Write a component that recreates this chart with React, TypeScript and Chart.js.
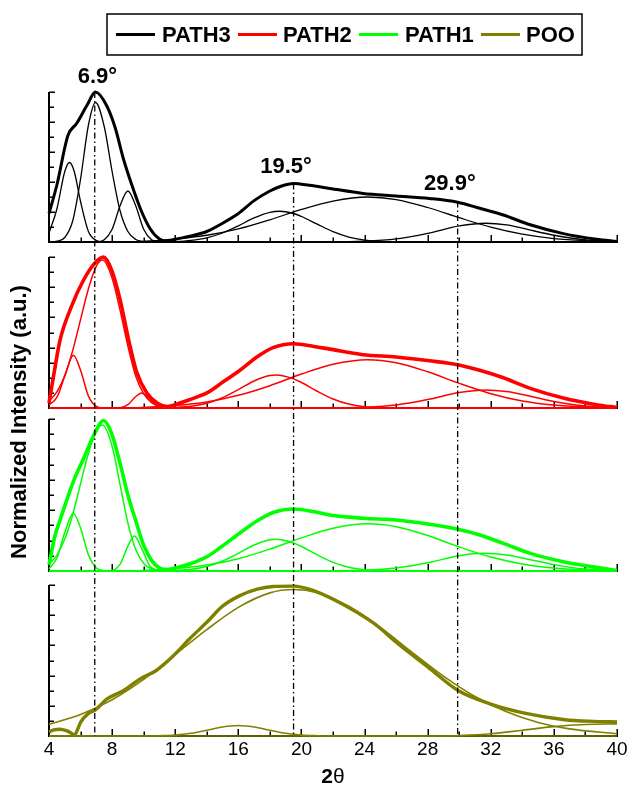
import React, { useEffect, useRef } from 'react';
import { Chart, registerables } from 'chart.js';

Chart.register(...registerables);

type Pt = [number, number];

// ---------- axis / tick data ----------
const X_MIN = 4;
const X_MAX = 40;
const xTickLabels = [4, 8, 12, 16, 20, 24, 28, 32, 36, 40];
const xTickMarks = [4, 6, 8, 10, 12, 14, 16, 18, 20, 22, 24, 26, 28, 30, 32, 34, 36, 38, 40];
const yTickMarks = [0, 0.1, 0.2, 0.3, 0.4, 0.5, 0.6, 0.7, 0.8, 0.9, 1.0];

// reference (dash-dot) lines: [2theta, top value in top panel]
const refLines: Pt[] = [
  [6.9, 1.0],
  [19.5, 0.39],
  [29.9, 0.27],
];
const peakLabelText = ['6.9°', '19.5°', '29.9°'];
const peakLabelPos: Pt[] = [
  [7.07, 1.06],
  [19.02, 0.46],
  [29.41, 0.347],
];

// ---------- PATH3 (black) ----------
const path3Exp: Pt[] = [[4,0.19],[4.5,0.38],[5.2,0.71],[5.75,0.79],[6.4,0.91],[6.95,1.0],[7.65,0.91],[8.2,0.76],[8.7,0.56],[9.25,0.38],[9.8,0.22],[10.4,0.09],[11,0.02],[11.5,0.005],[12,0.018],[13,0.04],[14,0.07],[15,0.125],[16,0.19],[17,0.276],[18,0.34],[18.7,0.372],[19.5,0.39],[20.5,0.378],[21.8,0.357],[23.9,0.324],[26,0.307],[28.1,0.29],[29.9,0.265],[31.3,0.225],[32.8,0.18],[34.5,0.115],[36.6,0.056],[38.7,0.018],[40,0.003]];
const path3A: Pt[] = [[4,0.06],[4.5,0.22],[5,0.47],[5.3,0.53],[5.6,0.47],[6,0.27],[6.5,0.07],[7,0.01],[7.5,0],[40,0]];
const path3B: Pt[] = [[4,0],[4.5,0.005],[5,0.03],[5.5,0.14],[6,0.42],[6.5,0.78],[6.95,0.93],[7.5,0.77],[8,0.47],[8.5,0.21],[9,0.07],[9.5,0.017],[10,0.003],[10.5,0],[40,0]];
const path3C: Pt[] = [[4,0],[7,0],[7.5,0.015],[8,0.085],[8.5,0.24],[9,0.34],[9.5,0.24],[10,0.085],[10.5,0.015],[11,0],[40,0]];
const path3D: Pt[] = [[4,0],[11,0],[12,0.003],[13,0.011],[14,0.028],[15,0.06],[16,0.108],[17,0.161],[18,0.198],[18.6,0.205],[19.5,0.19],[20,0.17],[21,0.119],[22,0.069],[23,0.033],[24,0.013],[25,0.004],[26,0],[40,0]];
const path3E: Pt[] = [[4,0],[9,0],[11,0.011],[12,0.02],[14,0.045],[16,0.087],[18,0.148],[20,0.217],[22,0.273],[24.2,0.3],[26,0.283],[28,0.23],[30,0.162],[32,0.099],[34,0.052],[36,0.023],[38,0.009],[40,0.003]];
const path3F: Pt[] = [[4,0],[22,0],[24,0.005],[26,0.021],[28,0.058],[30,0.107],[31.7,0.125],[33,0.114],[34,0.092],[36,0.045],[38,0.014],[40,0.003]];

// ---------- PATH2 (red) ----------
const path2Exp: Pt[] = [[4,0.033],[4.35,0.25],[4.7,0.45],[5.45,0.68],[6.15,0.84],[6.9,0.96],[7.45,1.0],[7.95,0.92],[8.5,0.72],[9.05,0.45],[9.55,0.24],[10.2,0.1],[10.9,0.03],[11.5,0.01],[12.2,0.03],[12.9,0.055],[14,0.1],[15,0.17],[16.1,0.25],[17.2,0.34],[18.2,0.4],[19.5,0.426],[20.8,0.408],[21.8,0.39],[23.9,0.353],[26,0.338],[28.1,0.313],[29.9,0.287],[31.3,0.25],[32.8,0.2],[34.5,0.13],[36.6,0.066],[38.7,0.022],[40,0.003]];
const path2A: Pt[] = [[4,0.02],[4.5,0.07],[5,0.21],[5.55,0.35],[6,0.25],[6.5,0.079],[7,0.011],[7.5,0],[40,0]];
const path2B: Pt[] = [[4,0.047],[4.5,0.107],[5,0.216],[5.5,0.38],[6,0.586],[6.5,0.79],[7,0.94],[7.4,0.98],[8,0.86],[8.5,0.65],[9,0.41],[9.5,0.21],[10,0.095],[10.5,0.036],[11,0.011],[11.5,0.003],[12,0],[40,0]];
const path2C: Pt[] = [[4,0],[8.5,0.002],[9,0.022],[9.5,0.076],[9.87,0.1],[10.3,0.069],[10.8,0.018],[11.3,0.002],[11.8,0],[40,0]];
const path2D: Pt[] = [[4,0],[11,0],[12,0.004],[13,0.012],[14,0.031],[15,0.069],[16,0.122],[17,0.179],[18,0.215],[18.4,0.218],[19.5,0.193],[20,0.169],[21,0.111],[22,0.06],[23,0.026],[24,0.009],[25,0.003],[26,0],[40,0]];
const path2E: Pt[] = [[4,0],[9,0],[11,0.01],[12,0.016],[14,0.04],[16,0.084],[18,0.148],[20,0.225],[22,0.29],[24.2,0.32],[26,0.3],[28,0.24],[30,0.163],[32,0.095],[34,0.047],[36,0.02],[38,0.007],[40,0.002]];
const path2F: Pt[] = [[4,0],[22,0],[24,0.005],[26,0.02],[28,0.056],[30,0.103],[31.7,0.12],[33,0.109],[34,0.089],[36,0.043],[38,0.013],[40,0.003]];

// ---------- PATH1 (green) ----------
const path1Exp: Pt[] = [[4,0.04],[4.35,0.22],[4.7,0.335],[5.55,0.59],[6.15,0.73],[6.9,0.906],[7.45,0.99],[7.95,0.91],[8.5,0.71],[9,0.5],[9.5,0.33],[10,0.17],[10.5,0.07],[11,0.02],[11.5,0.01],[12.2,0.025],[12.9,0.046],[14,0.094],[15,0.165],[16.1,0.25],[17.2,0.33],[18.2,0.385],[19.5,0.408],[20.8,0.39],[21.8,0.368],[23.9,0.347],[26,0.335],[28.1,0.307],[29.9,0.274],[31.3,0.237],[32.8,0.182],[34.5,0.116],[36.6,0.061],[38.7,0.024],[40,0.003]];
const path1A: Pt[] = [[4,0.014],[4.5,0.085],[5,0.253],[5.54,0.38],[6,0.283],[6.5,0.106],[7,0.02],[7.5,0.002],[8,0],[40,0]];
const path1B: Pt[] = [[4,0.045],[4.5,0.105],[5,0.21],[5.5,0.37],[6,0.575],[6.5,0.775],[7,0.92],[7.4,0.96],[8,0.82],[8.5,0.57],[9,0.315],[9.5,0.14],[10,0.05],[10.5,0.015],[11,0.004],[11.5,0],[40,0]];
const path1C: Pt[] = [[4,0],[7.5,0],[8,0.004],[8.5,0.044],[9,0.164],[9.41,0.23],[9.9,0.142],[10.4,0.032],[10.9,0.003],[11.4,0],[40,0]];
const path1D: Pt[] = [[4,0],[11,0],[12,0.004],[13,0.011],[14,0.03],[15,0.066],[16,0.116],[17,0.171],[18,0.205],[18.4,0.208],[19.5,0.184],[20,0.161],[21,0.106],[22,0.057],[23,0.025],[24,0.009],[25,0.003],[26,0],[40,0]];
const path1E: Pt[] = [[4,0],[9,0],[11,0.01],[12,0.016],[14,0.039],[16,0.081],[18,0.144],[20,0.218],[22,0.281],[24.2,0.31],[26,0.291],[28,0.233],[30,0.158],[32,0.092],[34,0.046],[36,0.019],[38,0.007],[40,0.002]];
const path1F: Pt[] = [[4,0],[22,0],[24,0.005],[26,0.02],[28,0.054],[30,0.1],[31.6,0.116],[33,0.105],[34,0.086],[36,0.042],[38,0.013],[40,0.003]];

// ---------- POO (olive) ----------
const pooExp: Pt[] = [[4,0.027],[4.3,0.04],[4.7,0.045],[5.1,0.035],[5.4,0.02],[5.6,0.005],[5.8,0.04],[6.0,0.09],[6.5,0.15],[6.9,0.17],[7.7,0.247],[8.7,0.3],[9.8,0.38],[10.8,0.434],[11.9,0.533],[12.9,0.643],[14,0.753],[15,0.86],[16.1,0.93],[17.2,0.973],[18.2,0.99],[19.5,0.993],[20.8,0.962],[22.2,0.896],[24.6,0.746],[26.1,0.613],[28,0.458],[29.9,0.303],[31.9,0.215],[34.3,0.148],[36.7,0.108],[38.5,0.097],[40,0.093]];
const pooG: Pt[] = [[4,0.077],[6,0.142],[8,0.24],[10,0.375],[12,0.54],[14,0.705],[16,0.852],[18,0.948],[19.5,0.97],[21,0.949],[23,0.859],[25,0.719],[27,0.556],[29,0.397],[31,0.262],[33,0.16],[35,0.09],[37,0.047],[40,0.015]];
const pooH: Pt[] = [[4,0],[10,0],[11,0.002],[12,0.006],[13,0.018],[14,0.038],[15,0.06],[16,0.07],[17,0.06],[18,0.038],[19,0.018],[20,0.006],[21,0.002],[22,0],[40,0]];
const pooI: Pt[] = [[4,0],[29,0],[30,0.003],[32,0.015],[34,0.038],[36,0.062],[38,0.076],[40,0.08]];

// ---------- panels ----------
const panelLabels = ['PATH3', 'PATH2', 'PATH1', 'POO'];
const panelColors = ['#000000', '#ff0000', '#00ff00', '#808000'];
const panelAxes = ['y1', 'y2', 'y3', 'y4'];
const panelMax = [1.0, 1.1, 1.072, 1.093];
const panelStackWeight = [150, 166, 163, 165];
const panelExp = [path3Exp, path2Exp, path1Exp, pooExp];
const panelComps = [
  [path3A, path3B, path3C, path3D, path3E, path3F],
  [path2A, path2B, path2C, path2D, path2E, path2F],
  [path1A, path1B, path1C, path1D, path1E, path1F],
  [pooG, pooH, pooI],
];
const expWidths = [3, 3.6, 3.6, 3.4];
const compWidths = [1.3, 1.5, 1.5, 1.6];

const FONT = '"Liberation Sans", Arial, Helvetica, sans-serif';

const toXY = (a: Pt[]) => a.map(([x, y]) => ({ x, y }));

const decorPlugin = {
  id: 'decor',
  beforeDatasetsDraw(chart: any) {
    const ctx = chart.ctx as CanvasRenderingContext2D;
    const xs = chart.scales.x;
    const xl = xs.getPixelForValue(X_MIN);
    const xr = xs.getPixelForValue(X_MAX);
    ctx.save();
    ctx.strokeStyle = '#000';
    panelAxes.forEach((id) => {
      const s = chart.scales[id];
      const y0 = s.getPixelForValue(0);
      const y1 = s.getPixelForValue(1);
      ctx.lineWidth = 2;
      ctx.beginPath();
      ctx.moveTo(xl, y0);
      ctx.lineTo(xl, y1);
      ctx.moveTo(xl - 1, y0);
      ctx.lineTo(xr + 1, y0);
      ctx.stroke();
      ctx.lineWidth = 1.5;
      ctx.beginPath();
      yTickMarks.forEach((v, i) => {
        const py = Math.round(s.getPixelForValue(v)) + 0.25;
        const len = i % 2 === 0 ? 6 : 5;
        ctx.moveTo(xl, py);
        ctx.lineTo(xl + len, py);
      });
      xTickMarks.forEach((v) => {
        const px = Math.round(xs.getPixelForValue(v)) + 0.25;
        const len = v % 4 === 0 ? 7 : 4.5;
        ctx.moveTo(px, y0);
        ctx.lineTo(px, y0 - len);
      });
      ctx.stroke();
    });
    ctx.restore();
  },
  afterDatasetsDraw(chart: any) {
    const ctx = chart.ctx as CanvasRenderingContext2D;
    const xs = chart.scales.x;
    const top = chart.scales.y1;
    const bottom = chart.scales.y4;
    ctx.save();
    // dash-dot reference lines
    ctx.strokeStyle = '#000';
    ctx.lineWidth = 1.3;
    ctx.setLineDash([6, 3, 1.5, 3]);
    refLines.forEach(([xv, tv]) => {
      const px = xs.getPixelForValue(xv);
      ctx.beginPath();
      ctx.moveTo(px, top.getPixelForValue(tv));
      ctx.lineTo(px, bottom.getPixelForValue(0));
      ctx.stroke();
    });
    ctx.setLineDash([]);

    // peak labels
    ctx.fillStyle = '#000';
    ctx.font = `bold 22px ${FONT}`;
    ctx.textAlign = 'center';
    ctx.textBaseline = 'alphabetic';
    peakLabelText.forEach((t, i) => {
      const [xv, yv] = peakLabelPos[i];
      ctx.fillText(t, xs.getPixelForValue(xv), top.getPixelForValue(yv));
    });

    // x tick labels
    ctx.font = `19px ${FONT}`;
    ctx.textBaseline = 'middle';
    xTickLabels.forEach((v) => {
      ctx.fillText(String(v), xs.getPixelForValue(v), 750);
    });

    // x title: bold 2 + theta
    const cx = (xs.getPixelForValue(X_MIN) + xs.getPixelForValue(X_MAX)) / 2;
    ctx.textBaseline = 'alphabetic';
    ctx.font = `bold 21px ${FONT}`;
    const w2 = ctx.measureText('2').width;
    ctx.font = `21px ${FONT}`;
    const wt = ctx.measureText('θ').width;
    const startX = cx - (w2 + wt) / 2;
    ctx.textAlign = 'left';
    ctx.font = `bold 21px ${FONT}`;
    ctx.fillText('2', startX, 783);
    ctx.font = `21px ${FONT}`;
    ctx.fillText('θ', startX + w2, 783);

    // y title
    ctx.save();
    ctx.translate(20, 422);
    ctx.rotate(-Math.PI / 2);
    ctx.textAlign = 'center';
    ctx.textBaseline = 'middle';
    ctx.font = `bold 22px ${FONT}`;
    ctx.fillText('Normalized Intensity (a.u.)', 0, 0);
    ctx.restore();

    // legend
    ctx.strokeStyle = '#000';
    ctx.lineWidth = 1.5;
    ctx.strokeRect(107, 14, 475, 41);
    const lineStarts = [116, 238, 359, 481];
    const textStarts = [162, 283, 405, 526];
    ctx.font = `bold 22px ${FONT}`;
    ctx.textAlign = 'left';
    ctx.textBaseline = 'alphabetic';
    panelLabels.forEach((lab, i) => {
      ctx.strokeStyle = panelColors[i];
      ctx.lineWidth = 3;
      ctx.beginPath();
      ctx.moveTo(lineStarts[i], 34.5);
      ctx.lineTo(lineStarts[i] + 39, 34.5);
      ctx.stroke();
      ctx.fillStyle = '#000';
      ctx.fillText(lab, textStarts[i], 42);
    });
    ctx.restore();
  },
};

export default function App() {
  const ref = useRef<HTMLCanvasElement>(null);
  useEffect(() => {
    if (!ref.current) return;
    const datasets: any[] = [];
    panelLabels.forEach((lab, i) => {
      datasets.push({
        label: lab,
        data: toXY(panelExp[i]),
        borderColor: panelColors[i],
        borderWidth: expWidths[i],
        yAxisID: panelAxes[i],
        pointRadius: 0,
        cubicInterpolationMode: 'monotone',
        fill: false,
        clip: false,
      });
      panelComps[i].forEach((c, j) => {
        datasets.push({
          label: `${lab} peak ${j + 1}`,
          data: toXY(c),
          borderColor: panelColors[i],
          borderWidth: compWidths[i],
          yAxisID: panelAxes[i],
          pointRadius: 0,
          cubicInterpolationMode: 'monotone',
          fill: false,
          clip: false,
        });
      });
    });
    const scales: any = {
      x: { type: 'linear', min: X_MIN, max: X_MAX, display: false },
    };
    panelAxes.forEach((id, i) => {
      scales[id] = {
        type: 'linear',
        position: 'left',
        stack: 'panels',
        stackWeight: panelStackWeight[i],
        weight: 4 - i,
        min: 0,
        max: panelMax[i],
        display: false,
      };
    });
    const chart = new Chart(ref.current, {
      type: 'line',
      data: { datasets },
      options: {
        animation: false,
        responsive: false,
        devicePixelRatio: 1,
        events: [],
        layout: { padding: { left: 49, right: 13, top: 92, bottom: 54 } },
        plugins: { legend: { display: false }, tooltip: { enabled: false } },
        scales,
      },
      plugins: [decorPlugin],
    });
    return () => chart.destroy();
  }, []);
  return (
    <div style={{ position: 'fixed', left: 0, top: 0, width: 630, height: 790, background: '#fff' }}>
      <canvas ref={ref} width={630} height={790} style={{ display: 'block' }} />
    </div>
  );
}
